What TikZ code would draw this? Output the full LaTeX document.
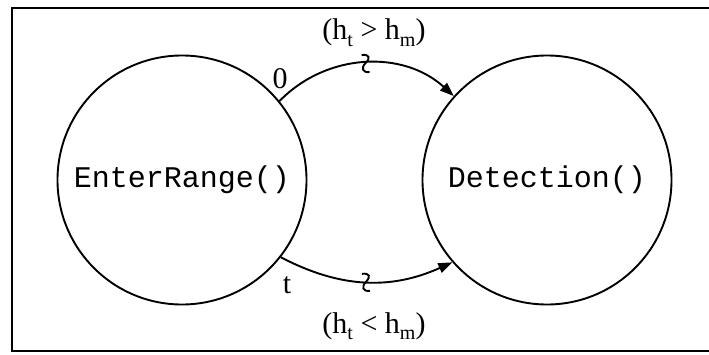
\documentclass[tikz,border=0pt]{standalone}
\usepackage{fontspec}
\setmainfont{Liberation Serif}
\setmonofont{Liberation Mono}
\usetikzlibrary{arrows.meta}
\newcommand{\lsub}[1]{\raisebox{-0.5ex}{\fontsize{20}{21}\selectfont #1}}
\begin{document}
\begin{tikzpicture}[x=1pt,y=1pt,
  state/.style={circle,draw,line width=1.9pt,minimum size=249pt,inner sep=0pt,
    font=\fontsize{30}{32}\selectfont\ttfamily},
  trans/.style={line width=1.9pt,-{Triangle[length=14pt,width=10pt]}},
  lbl/.style={font=\fontsize{30}{32}\selectfont,inner sep=0pt},
  squig/.style={line width=1.9pt}]
\useasboundingbox (0,0) rectangle (709,354);
\draw[line width=2.6pt] (709,346) -- (12,346) -- (12,3) -- (709,3);
\node[state] (L) at (182,174) {EnterRange()};
\node[state] (R) at (547,174) {Detection()};
\draw[trans] (L.39) to[bend left=44] node[coordinate,pos=0.5] (mt) {} (R.138);
\draw[trans] (L.-38) to[bend right=26] node[coordinate,pos=0.5] (mb) {} (R.221);
\draw[squig] (mt) ++(-4,8) .. controls ++(8,1) and ++(5,5) .. ++(4,-8)
  .. controls ++(-5,-5) and ++(-7,-1) .. ++(4,-9);
\draw[squig] (mb) ++(-4,8) .. controls ++(8,1) and ++(5,5) .. ++(4,-8)
  .. controls ++(-5,-5) and ++(-7,-1) .. ++(4,-9);
\node[lbl,anchor=base] (top) at (374,314) {(h\lsub{t} > h\lsub{m})};
\node[lbl,anchor=base] (bot) at (374,21) {(h\lsub{t} < h\lsub{m})};
\node[lbl] (zero) at (280,275) {0};
\node[lbl] (tt) at (287,69) {t};
\end{tikzpicture}
\end{document}
